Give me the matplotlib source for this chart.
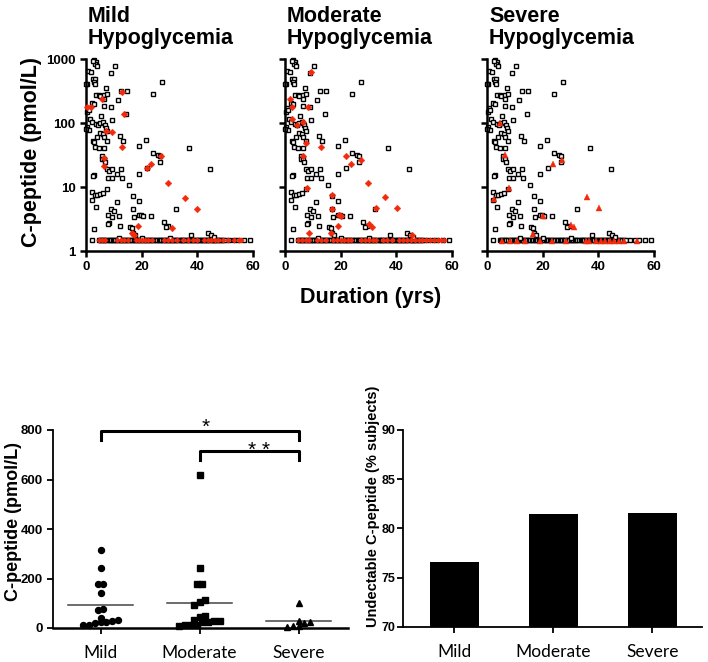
import numpy as np
import matplotlib
matplotlib.use('Agg')
import matplotlib.pyplot as plt

plt.rcParams['font.family'] = ['Liberation Sans', 'DejaVu Sans']

# ---- top panels: C-peptide vs duration ----
# whole cohort (open squares), the same in all three panels
bg_years = [3.0, 3.6, 3.3, 2.6, 3.9, 0.8, 1.7, 10.5, 8.9,
            2.4, 3.3, 2.7, 3.2, 0.2, 7.2, 27.3, 24.0, 14.7, 12.6, 11.6,
            3.6, 4.5, 5.1, 6.5, 7.5, 6.3, 2.1, 3.0, 0.8, 0.2, 1.2, 6.5, 8.9, 14.2,
            9.3, 5.3, 1.4, 2.1, 3.5, 4.2, 5.0, 0.3, 1.2, 6.0, 6.9, 7.1, 7.5, 5.0, 6.0,
            3.9, 2.4, 2.9, 6.5, 7.4, 12.3, 13.3, 3.3, 4.5, 6.3, 5.7, 5.8, 6.5, 6.9,
            19.0, 21.7, 24.0, 25.8, 26.7, 26.7, 22.0, 36.9, 44.6,
            7.5, 8.4, 9.3, 11.0, 12.5, 8.0, 9.3, 12.8, 2.7, 2.4, 19.0,
            15.3, 2.3, 3.1, 4.0, 5.2, 6.0, 7.5, 2.2, 3.6, 11.3, 16.9, 19.0,
            9.0, 10.0, 17.0, 32.5, 8.0, 9.3, 11.7, 19.0, 19.9, 20.6, 23.4, 17.4,
            8.4, 8.0, 2.9, 12.3, 15.7, 16.5, 28.0, 29.6, 28.9, 17.0, 17.6, 43.9, 37.6, 45.0,
            12.0, 20.0, 30.0, 46.0, 0.0, 0.0]
bg_cpep = [950, 900, 850, 920, 780, 660, 630, 780, 610,
           490, 480, 440, 410, 410, 355, 435, 285, 320, 315, 225,
           270, 275, 265, 270, 280, 240, 205, 195, 170, 150, 160, 185, 180, 140,
           110, 130, 115, 105, 98, 92, 100, 88, 78, 105, 92, 85, 75, 70, 68,
           60, 53, 50, 60, 52, 62, 53, 42, 40, 40, 31, 27, 27, 25,
           43, 55, 34, 32, 31, 25, 19.5, 41, 19,
           19, 18, 19, 16, 19, 14, 13.6, 14, 15.5, 15, 16,
           10.7, 8.5, 7.6, 7.6, 7.7, 8, 9.4, 6.3, 4.9, 5.8, 7.3, 6,
           4.6, 4.2, 4.5, 4.6, 3.7, 3.4, 3.5, 3.7, 3.6, 3.5, 3.5, 3.4,
           2.75, 2.6, 2.2, 2.45, 2.4, 2.3, 2.8, 2.5, 2.4, 1.9, 1.8, 1.9, 1.75, 1.75,
           1.6, 1.6, 1.6, 1.65, 410, 81]
# undetectable subjects sit on the floor value
floor_val = 1.5
bg_floor_years = [2.0, 4.6, 5.1, 5.5, 6.0, 6.6, 7.0, 7.6, 8.1, 8.5, 9.0, 9.6, 10.1, 10.5,
                  11.0, 11.6, 12.1, 12.5, 13.1, 13.6, 14.0, 14.5, 15.1, 15.6, 16.0, 16.6,
                  17.1, 17.5, 18.0, 18.6, 19.1, 19.5, 20.0, 20.6, 21.1, 21.5, 22.0, 22.6,
                  23.0, 23.5, 24.1, 24.6, 25.0, 25.5, 26.1, 26.6, 27.0, 27.5, 28.1, 28.6,
                  29.0, 29.5, 30.1, 30.5, 31.0, 31.6, 32.1, 32.5, 33.0, 33.6, 34.1, 34.5,
                  35.0, 35.6, 36.1, 36.5, 37.0, 37.6, 38.1, 38.5, 39.0, 39.6, 40.1, 40.5,
                  41.0, 41.6, 42.0, 42.5, 43.1, 43.6, 44.0, 44.5, 45.1, 45.6, 46.0, 46.5,
                  47.1, 47.6, 48.0, 48.6, 49.1, 50.0, 51.5, 53.0, 54.6, 56.8, 58.8]

mild_years = [12.8, 5.8, 0.2, 1.9, 13.7, 7.2, 9.2, 12.8, 6.5, 6.5, 27.0, 23.4, 22.0,
              29.6, 35.7, 40.0, 31.0, 18.8, 16.5, 17.3]
mild_cpep = [310, 240, 178, 178, 140, 76, 72, 42, 28, 21, 30, 22.5, 20,
             11.5, 6.8, 4.6, 2.3, 2.5, 1.9, 1.8]
mild_floor_years = [4.6, 5.8, 6.8, 11.0, 12.4, 13.6, 15.0, 17.8, 18.9, 20.0, 21.2, 22.4,
                    23.6, 28.1, 29.5, 30.8, 32.6, 34.8, 36.5, 38.6, 40.0, 42.5, 43.8,
                    45.0, 46.3, 47.6, 49.4, 51.0, 53.0, 55.0, 55.8]

mod_years = [9.3, 1.8, 8.3, 2.4, 2.4, 6.3, 4.2, 7.7, 13.1, 6.5, 22.0, 23.8, 27.3,
             29.9, 8.0, 17.0, 36.0, 32.7, 40.4, 17.0, 19.4, 20.0, 19.0, 30.3, 31.3,
             8.7, 16.7, 45.5]
mod_cpep = [630, 240, 178, 178, 115, 105, 92, 48, 42, 31, 30, 22.5, 26,
            11.7, 9.8, 7.4, 7.0, 4.7, 4.7, 4.6, 3.7, 3.5, 2.5, 2.6, 2.4,
            1.9, 1.9, 1.8]
mod_floor_years = [4.8, 6.0, 7.4, 8.8, 11.4, 13.0, 14.8, 17.4, 18.6, 20.0, 21.3, 22.6,
                   23.8, 27.4, 28.8, 30.2, 31.6, 32.8, 35.2, 36.8, 38.6, 41.0, 42.4,
                   43.8, 45.2, 46.6, 48.0, 49.4, 50.6, 52.0, 53.4, 54.8, 56.0, 57.0]

sev_years = [4.8, 6.5, 8.0, 2.4, 23.8, 27.1, 35.9, 40.1, 20.0, 30.3, 31.4, 16.4]
sev_cpep = [100, 32, 9.8, 6.5, 23, 26, 7.1, 4.7, 3.5, 2.55, 2.35, 1.86]
sev_floor_years = [5.3, 8.1, 10.9, 13.7, 19.0, 23.5, 28.3, 35.4, 36.6, 39.2, 41.0,
                   42.5, 44.2, 45.7, 47.5, 49.3, 54.0]
sev_floor_val = 1.42

# ---- bottom left: C-peptide of detectable subjects per group ----
groups = ['Mild', 'Moderate', 'Severe']
dot_mild = [314, 244, 179, 179, 142, 78, 74, 42, 31, 24, 20, 11, 11, 23, 28]
dot_mod = [618, 241, 179, 179, 113, 104, 92, 47, 43, 32, 30, 23, 24, 27, 11, 9, 11, 11]
dot_sev = [100, 24, 30, 22, 8, 5, 8]

# ---- bottom right: % subjects with undetectable C-peptide ----
undetect_pct = [76.6, 81.5, 81.6]

red = '#f22a0c'

fig = plt.figure(figsize=(7.08, 6.62), dpi=100)

top_lefts = [86, 285, 487]
top_titles = ['Mild\nHypoglycemia', 'Moderate\nHypoglycemia', 'Severe\nHypoglycemia']
red_sets = [(mild_years, mild_cpep, mild_floor_years, floor_val, 'D', 3.4),
            (mod_years, mod_cpep, mod_floor_years, floor_val, 'D', 3.4),
            (sev_years, sev_cpep, sev_floor_years, sev_floor_val, '^', 5.0)]

for i, left in enumerate(top_lefts):
    ax = fig.add_axes([left / 708, 1 - 251 / 662, 167 / 708, 192 / 662])
    ax.set_yscale('log')
    ax.set_xlim(0, 60)
    ax.set_ylim(1, 1000)
    ax.plot(bg_floor_years, [floor_val] * len(bg_floor_years), 's', ms=3.0,
            mfc='white', mec='black', mew=1.0, clip_on=False, zorder=2)
    ax.plot(bg_years, bg_cpep, 's', ms=3.0, mfc='white', mec='black', mew=1.0,
            clip_on=False, zorder=2)
    yrs, vals, fyrs, fval, mk, ms = red_sets[i]
    ax.plot(fyrs, [fval] * len(fyrs), mk, ms=ms - 0.6, color=red, mec=red, mew=0.3,
            clip_on=False, zorder=3)
    ax.plot(yrs, vals, mk, ms=ms, color=red, mec=red, mew=0.3, clip_on=False, zorder=3)
    for s in ['top', 'right']:
        ax.spines[s].set_visible(False)
    for s in ['left', 'bottom']:
        ax.spines[s].set_linewidth(1.8)
    ax.set_xticks([0, 20, 40, 60])
    ax.set_yticks([1, 10, 100, 1000])
    ax.yaxis.set_minor_locator(matplotlib.ticker.NullLocator())
    ax.tick_params(width=1.8, length=4, labelsize=9.5)
    for lab in ax.get_xticklabels():
        lab.set_fontweight('bold')
    if i == 0:
        ax.set_yticklabels(['1', '10', '100', '1000'], fontweight='bold')
    else:
        ax.set_yticklabels([])
    fig.text((left + 2) / 708, 1 - 6 / 662, top_titles[i], fontsize=15.5,
             fontweight='bold', ha='left', va='top', linespacing=1.05)

fig.text(32 / 708, 1 - 152 / 662, 'C-peptide (pmol/L)', rotation=90, fontsize=15.5,
         fontweight='bold', ha='center', va='center')
fig.text(371 / 708, 1 - 298 / 662, 'Duration (yrs)', fontsize=15.5,
         fontweight='bold', ha='center', va='center')


def swarm(vals, step=0.06, gap=22):
    # put close values on one row, rows spread evenly around the centre
    v = sorted(vals)
    rows, cur = [], [v[0]]
    for x in v[1:]:
        if x - cur[0] < gap:
            cur.append(x)
        else:
            rows.append(cur)
            cur = [x]
    rows.append(cur)
    xs, ys = [], []
    for r in rows:
        n = len(r)
        for k, y in enumerate(r):
            xs.append((k - (n - 1) / 2) * step)
            ys.append(y)
    return np.array(xs), np.array(ys)


ax = fig.add_axes([53 / 708, 1 - 628 / 662, 295 / 708, 198 / 662])
ax.set_xlim(-0.48, 2.5)
ax.set_ylim(0, 800)
for i, (vals, mk, ms) in enumerate([(dot_mild, 'o', 4.3), (dot_mod, 's', 4.0),
                                    (dot_sev, '^', 4.0)]):
    xs, ys = swarm(vals)
    ax.plot(xs + i, ys, mk, ms=ms, color='black', clip_on=False, zorder=3)
    m = np.mean(vals)
    ax.plot([i - 0.33, i + 0.33], [m, m], color='#444444', lw=1.1, zorder=2)
ax.plot([0, 0, 2, 2], [758, 795, 795, 758], color='black', lw=2.2, clip_on=False)
ax.plot([1, 1, 2, 2], [678, 714, 714, 678], color='black', lw=2.2, clip_on=False)
ax.text(1.06, 790, '*', fontsize=15, ha='center', va='baseline')
ax.text(1.6, 694, '* *', fontsize=15, ha='center', va='baseline')
for s in ['top', 'right']:
    ax.spines[s].set_visible(False)
ax.spines['left'].set_linewidth(1.3)
ax.spines['bottom'].set_linewidth(1.8)
ax.set_yticks([0, 200, 400, 600, 800])
ax.set_xticks([0, 1, 2])
ax.set_xticklabels(groups, fontsize=12.5, family=['Lato', 'DejaVu Sans'])
for lab in ax.get_yticklabels():
    lab.set_fontweight('bold')
ax.tick_params(axis='y', width=1.3, length=4, labelsize=9.5)
ax.tick_params(axis='x', width=1.3, length=4, pad=8)
ax.set_ylabel('C-peptide (pmol/L)', fontsize=13, fontweight='bold')
ax.yaxis.set_label_coords(-0.105, 0.54)

ax = fig.add_axes([403 / 708, 1 - 627 / 662, 299 / 708, 197 / 662])
ax.bar(range(3), undetect_pct, width=0.5, color='black', bottom=0)
ax.set_xlim(-0.52, 2.5)
ax.set_ylim(70, 90)
for s in ['top', 'right']:
    ax.spines[s].set_visible(False)
for s in ['left', 'bottom']:
    ax.spines[s].set_linewidth(1.3)
ax.set_yticks([70, 75, 80, 85, 90])
ax.set_xticks([0, 1, 2])
ax.set_xticklabels(groups, fontsize=12.5, family=['Lato', 'DejaVu Sans'])
for lab in ax.get_yticklabels():
    lab.set_fontweight('bold')
ax.tick_params(axis='y', width=1.3, length=4, labelsize=9, pad=1.5)
ax.tick_params(axis='x', width=1.3, length=4, pad=8)
ax.set_ylabel('Undectable C-peptide (% subjects)', fontsize=10.5, fontweight='bold')
ax.yaxis.set_label_coords(-0.078, 0.614)

fig.savefig('out.png', dpi=100)
